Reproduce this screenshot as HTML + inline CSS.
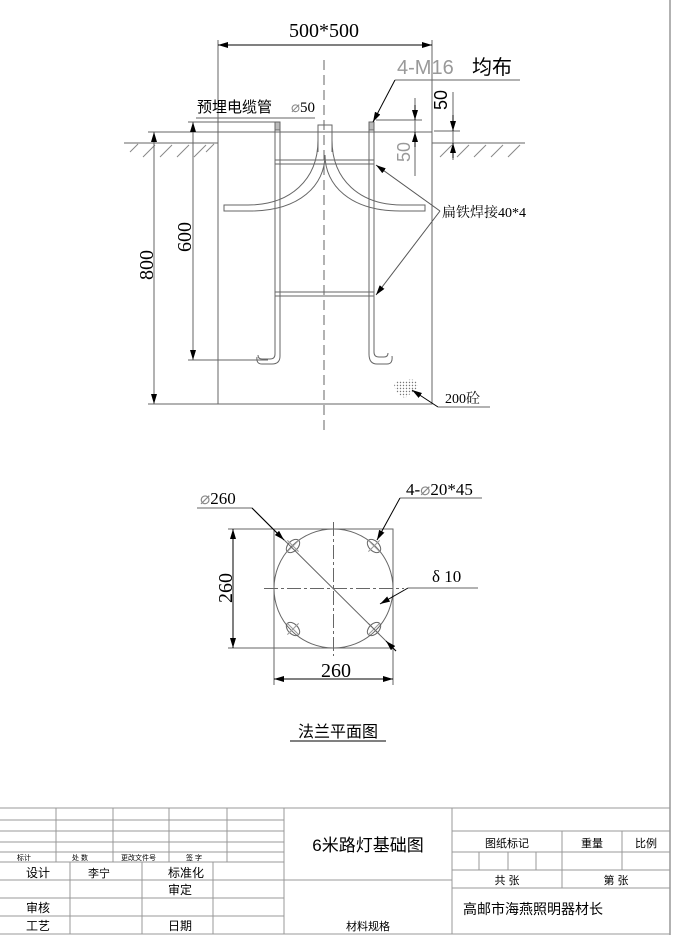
<!DOCTYPE html>
<html><head><meta charset="utf-8"><style>
html,body{margin:0;padding:0;background:#fff}
svg{display:block}
text{font-family:"Liberation Serif","Noto Serif CJK SC","Noto Sans CJK SC",serif;fill:#000}
.s{font-family:"Liberation Sans","Noto Sans CJK SC",sans-serif}
</style></head><body>
<svg width="676" height="935" viewBox="0 0 676 935" xmlns="http://www.w3.org/2000/svg">
<defs>
<marker id="a" viewBox="0 0 10 6" refX="10" refY="3" markerWidth="10" markerHeight="6" orient="auto-start-reverse" markerUnits="userSpaceOnUse"><path d="M0,0L10,3L0,6z" fill="#000"/></marker>
<pattern id="dot" width="3" height="3" patternUnits="userSpaceOnUse"><circle cx="1.5" cy="1.5" r="0.7" fill="#777"/></pattern>
</defs>
<g stroke="#666" stroke-width="1" fill="none">
<line x1="670" y1="0" x2="670" y2="935"/>
<rect x="218" y="132" width="214" height="272"/>
<line x1="324" y1="60" x2="324" y2="432" stroke-dasharray="10,5"/>
<line x1="124" y1="143" x2="218" y2="143"/>
<line x1="432" y1="143" x2="525" y2="143"/>
<g stroke="#888">
<path d="M130,152l8,-8M143,157l12,-12M160,157l12,-12M177,157l12,-12M194,157l12,-12M206,152l8,-8M440,157l12,-12M457,157l12,-12M474,157l12,-12M491,157l12,-12M508,157l12,-12"/>
</g>
<line x1="218" y1="40" x2="218" y2="132"/>
<line x1="432" y1="40" x2="432" y2="132"/>
<line x1="218" y1="45" x2="432" y2="45" stroke="#000" marker-start="url(#a)" marker-end="url(#a)"/>
<line x1="148" y1="132" x2="218" y2="132"/>
<line x1="148" y1="404" x2="218" y2="404"/>
<line x1="154" y1="132" x2="154" y2="404" marker-start="url(#a)" marker-end="url(#a)"/>
<line x1="188" y1="122" x2="280" y2="122"/>
<line x1="188" y1="360" x2="268" y2="360"/>
<line x1="193" y1="122" x2="193" y2="360" marker-start="url(#a)" marker-end="url(#a)"/>
<path d="M275,123V354q0,5 -5,5h-8q-4,0 -4,-4M280,123V356q0,8 -8,8h-10q-6,0 -5,-7"/>
<path d="M369,123V354q0,10 8,10h10q6,0 5,-8M374,123V352q0,5 5,5h5q4,0 4,-4"/>
<rect x="275" y="122" width="5" height="8" fill="#bbb"/>
<rect x="369" y="122" width="5" height="8" fill="#bbb"/>
<path d="M275,160H374M275,164H374M275,292H374M275,296H374"/>
<path d="M318,152V125H332V152"/>
<path d="M318,140C318,180 290,205 248,205H224V211H250C300,211 325,185 325,155C325,185 350,211 400,211H425V205H402C360,205 332,180 332,140"/>
<line x1="196" y1="118" x2="315" y2="118"/>
<path d="M520,80H395"/><line x1="395" y1="80" x2="373" y2="122" stroke="#000" marker-end="url(#a)"/>
<line x1="376" y1="120" x2="422" y2="120"/>
<line x1="415" y1="98" x2="415" y2="176"/>
<line x1="415" y1="105" x2="415" y2="120" stroke="#000" marker-end="url(#a)"/>
<line x1="415" y1="147" x2="415" y2="132" stroke="#000" marker-end="url(#a)"/>
<line x1="434" y1="131" x2="460" y2="131"/>
<line x1="453" y1="92" x2="453" y2="160"/>
<line x1="453" y1="115" x2="453" y2="131" stroke="#000" marker-end="url(#a)"/>
<line x1="453" y1="158" x2="453" y2="143" stroke="#000" marker-end="url(#a)"/>
<line x1="440" y1="211" x2="376" y2="165" stroke="#555" marker-end="url(#a)"/>
<line x1="440" y1="211" x2="376" y2="295" stroke="#555" marker-end="url(#a)"/>
<path d="M394,384q5,-6 11,-2q6,-5 12,0q3,5 -4,10l-8,6q-10,-4 -11,-14z" fill="url(#dot)" stroke="none"/>
<line x1="438" y1="407" x2="412" y2="390" stroke="#000" marker-end="url(#a)"/>
<line x1="438" y1="407" x2="490" y2="407"/>
<rect x="274" y="529" width="119" height="119"/>
<circle cx="333.5" cy="588.5" r="59.5"/>
<line x1="333.5" y1="522" x2="333.5" y2="656" stroke-dasharray="14,3,3,3"/>
<line x1="264" y1="588.5" x2="404" y2="588.5" stroke-dasharray="14,3,3,3"/>
<g transform="rotate(-45 293 546)"><ellipse cx="293" cy="546" rx="8" ry="5"/><path d="M285,546h16M293,538v16" stroke="#999"/></g>
<g transform="rotate(45 374 546)"><ellipse cx="374" cy="546" rx="8" ry="5"/><path d="M366,546h16M374,538v16" stroke="#999"/></g>
<g transform="rotate(45 293 629)"><ellipse cx="293" cy="629" rx="8" ry="5"/><path d="M285,629h16M293,621v16" stroke="#999"/></g>
<g transform="rotate(-45 374 629)"><ellipse cx="374" cy="629" rx="8" ry="5"/><path d="M366,629h16M374,621v16" stroke="#999"/></g>
<line x1="228" y1="529" x2="274" y2="529"/>
<line x1="228" y1="648" x2="274" y2="648"/>
<line x1="233" y1="529" x2="233" y2="648" stroke="#000" marker-start="url(#a)" marker-end="url(#a)"/>
<line x1="274" y1="648" x2="274" y2="685"/>
<line x1="393" y1="648" x2="393" y2="685"/>
<line x1="274" y1="679" x2="393" y2="679" stroke="#000" marker-start="url(#a)" marker-end="url(#a)"/>
<path d="M197,508H252L396,651"/>
<line x1="252" y1="508" x2="284" y2="540" stroke="#000" marker-end="url(#a)"/>
<line x1="396" y1="651" x2="386" y2="641" stroke="#000" marker-end="url(#a)"/>
<path d="M482,498H400"/>
<line x1="400" y1="498" x2="377" y2="540" stroke="#000" marker-end="url(#a)"/>
<path d="M478,588H408"/>
<line x1="408" y1="588" x2="380" y2="604" stroke="#000" marker-end="url(#a)"/>
<line x1="290" y1="741" x2="386" y2="741" stroke="#000"/>
<g stroke="#999">
<line x1="0" y1="808" x2="670" y2="808"/>
<line x1="0" y1="934" x2="670" y2="934"/>
<path d="M0,820H284M0,831H284M0,842H284M0,852H284M0,862H284M0,880H284M0,898H284M0,916H284"/>
<path d="M56,808V862M113,808V862M169,808V862M227,808V862"/>
<path d="M70,862V934M142,862V934M213,862V934"/>
<line x1="284" y1="808" x2="284" y2="934"/>
<line x1="284" y1="880" x2="452" y2="880"/>
<line x1="452" y1="808" x2="452" y2="934"/>
<path d="M452,831H670M452,852H670M452,870H670M452,888H670"/>
<path d="M562,831V888M622,831V870M479,852V870M508,852V870M536,852V870"/>
</g>
</g>
<text x="324" y="37" font-size="20" text-anchor="middle">500*500</text>
<text x="397" y="74" font-size="20" class="s" style="fill:#999">4-M16</text>
<text x="472" y="74" font-size="20" class="s">均布</text>
<text x="197" y="112" font-size="15" class="s">预埋电缆管</text>
<text x="291" y="112" font-size="15"><tspan style="fill:#888">⌀</tspan>50</text>
<text transform="translate(447,100) rotate(-90)" font-size="18" text-anchor="middle" class="s">50</text>
<text transform="translate(410,152) rotate(-90)" font-size="18" text-anchor="middle" class="s" style="fill:#999">50</text>
<text transform="translate(153,265) rotate(-90)" font-size="20" text-anchor="middle">800</text>
<text transform="translate(191,237) rotate(-90)" font-size="20" text-anchor="middle">600</text>
<text x="442" y="217" font-size="14">扁铁焊接40*4</text>
<text x="445" y="403" font-size="14">200砼</text>
<text x="200" y="504" font-size="17"><tspan style="fill:#888">⌀</tspan>260</text>
<text x="406" y="495" font-size="17">4-<tspan style="fill:#888">⌀</tspan>20*45</text>
<text x="432" y="582" font-size="17">δ 10</text>
<text transform="translate(232,588) rotate(-90)" font-size="20" text-anchor="middle">260</text>
<text x="336" y="677" font-size="20" text-anchor="middle">260</text>
<text x="338" y="737" font-size="16" text-anchor="middle" class="s">法兰平面图</text>
<text x="17" y="860" font-size="7" class="s">标计</text>
<text x="72" y="860" font-size="7" class="s">处 数</text>
<text x="121" y="860" font-size="7" class="s">更改文件号</text>
<text x="186" y="860" font-size="7" class="s">签 字</text>
<text x="26" y="877" font-size="12" class="s">设计</text>
<text x="88" y="877" font-size="11" class="s">李宁</text>
<text x="168" y="877" font-size="12" class="s">标准化</text>
<text x="168" y="894" font-size="12" class="s">审定</text>
<text x="26" y="912" font-size="12" class="s">审核</text>
<text x="26" y="930" font-size="12" class="s">工艺</text>
<text x="168" y="930" font-size="12" class="s">日期</text>
<text x="368" y="851" font-size="17" text-anchor="middle" class="s">6米路灯基础图</text>
<text x="368" y="930" font-size="11" text-anchor="middle" class="s">材料规格</text>
<text x="507" y="847" font-size="11" text-anchor="middle" class="s">图纸标记</text>
<text x="592" y="847" font-size="11" text-anchor="middle" class="s">重量</text>
<text x="646" y="847" font-size="11" text-anchor="middle" class="s">比例</text>
<text x="507" y="884" font-size="11" text-anchor="middle" class="s">共  张</text>
<text x="616" y="884" font-size="11" text-anchor="middle" class="s">第  张</text>
<text x="463" y="914" font-size="14" class="s">高邮市海燕照明器材长</text>
</svg>
</body></html>
